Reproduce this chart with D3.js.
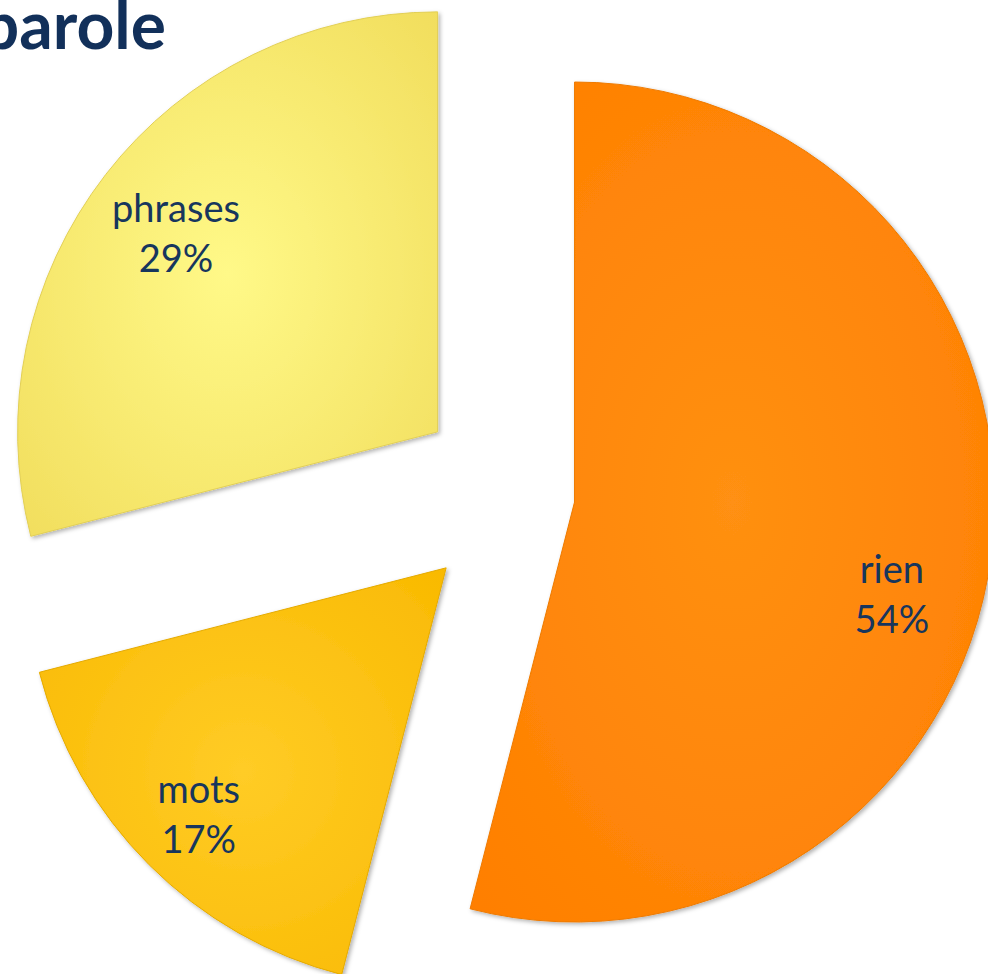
<!DOCTYPE html>
<html>
<head>
<meta charset="utf-8">
<script src="https://cdn.jsdelivr.net/npm/d3@7"></script>
<style>
  html, body { margin: 0; padding: 0; background: #fff; }
  svg { display: block; }
</style>
</head>
<body>
<svg id="chart"></svg>
<script>
// data
var categories = ["rien", "mots", "phrases"]
var values = [54, 17, 29]
var title = "parole"

var width = 988, height = 974

// layout
var center = [519, 495]
var radius = 420
var explode = { rien: 56, mots: 103, phrases: 103 }
var labelRadius = 340
var labelNudge = { rien: [-20, 50], mots: [-7, 7], phrases: [7, 11] }

var colors = {
    rien:    { inner: "#ff9012", outer: "#ff7e00", stroke: "#ee7a00" },
    mots:    { inner: "#ffcc26", outer: "#f9b900", stroke: "#e5aa00" },
    phrases: { inner: "#fff988", outer: "#f1dd5c", stroke: "#e2cf55" }
}

var data = categories.map(function (c, i) { return { name: c, value: values[i] } })
var total = d3.sum(values)

var svg = d3.select("#chart")
    .attr("width", width)
    .attr("height", height)

var defs = svg.append("defs")

var shadow = defs.append("filter")
    .attr("id", "shadow")
    .attr("x", "-10%").attr("y", "-10%")
    .attr("width", "120%").attr("height", "120%")
shadow.append("feDropShadow")
    .attr("dx", 2).attr("dy", 2)
    .attr("stdDeviation", 2)
    .attr("flood-color", "#000")
    .attr("flood-opacity", 0.3)

data.forEach(function (d) {
    var g = defs.append("radialGradient")
        .attr("id", "grad-" + d.name)
        .attr("cx", "50%").attr("cy", "50%").attr("r", "72%")
    g.append("stop").attr("offset", "0%").attr("stop-color", colors[d.name].inner)
    g.append("stop").attr("offset", "100%").attr("stop-color", colors[d.name].outer)
})

var pie = d3.pie()
    .sort(null)
    .value(function (d) { return d.value })

var arc = d3.arc()
    .innerRadius(0)
    .outerRadius(radius)

var labelArc = d3.arc()
    .innerRadius(labelRadius)
    .outerRadius(labelRadius)

var arcs = pie(data)

function offset(d) {
    var mid = (d.startAngle + d.endAngle) / 2
    var e = explode[d.data.name]
    return [Math.sin(mid) * e, -Math.cos(mid) * e]
}

var slices = svg.append("g")
    .attr("transform", "translate(" + center[0] + "," + center[1] + ")")

slices.selectAll("path")
    .data(arcs)
    .enter().append("path")
    .attr("transform", function (d) { var o = offset(d); return "translate(" + o[0] + "," + o[1] + ")" })
    .attr("d", arc)
    .attr("fill", function (d) { return "url(#grad-" + d.data.name + ")" })
    .attr("stroke", function (d) { return colors[d.data.name].stroke })
    .attr("stroke-width", 1)
    .attr("filter", "url(#shadow)")

var labels = slices.selectAll("text")
    .data(arcs)
    .enter().append("text")
    .attr("transform", function (d) {
        var o = offset(d)
        var c = labelArc.centroid(d)
        var n = labelNudge[d.data.name]
        return "translate(" + (o[0] + c[0] + n[0]) + "," + (o[1] + c[1] + n[1]) + ")"
    })
    .attr("text-anchor", "middle")
    .style("font-family", "Lato, 'Open Sans', sans-serif")
    .style("font-size", "38px")
    .attr("fill", "#17365d")

labels.append("tspan")
    .attr("x", 0)
    .attr("y", -12)
    .text(function (d) { return d.data.name })

labels.append("tspan")
    .attr("x", 0)
    .attr("y", 38)
    .text(function (d) { return Math.round(d.data.value / total * 100) + "%" })

// title, cut off at the left edge like the slide
svg.append("text")
    .attr("x", 166)
    .attr("y", 49)
    .attr("text-anchor", "end")
    .style("font-family", "Lato, 'Open Sans', sans-serif")
    .style("font-weight", "bold")
    .style("font-size", "66px")
    .attr("fill", "#12305a")
    .text(title)
</script>
</body>
</html>
